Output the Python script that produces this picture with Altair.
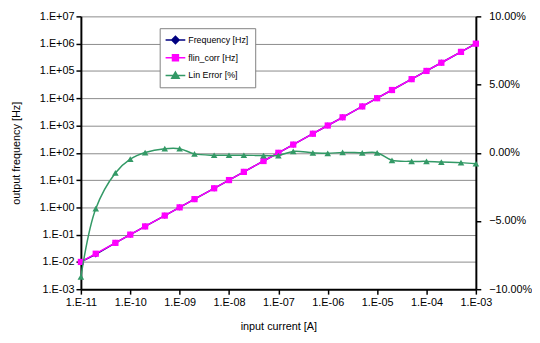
import altair as alt
import pandas as pd

# ---- data ----
current = [1e-11, 2e-11, 5e-11, 1e-10, 2e-10, 5e-10, 1e-9, 2e-9, 5e-9,
           1e-8, 2e-8, 5e-8, 1e-7, 2e-7, 5e-7, 1e-6, 2e-6, 5e-6,
           1e-5, 2e-5, 5e-5, 1e-4, 2e-4, 5e-4, 1e-3]
frequency = [0.01, 0.019, 0.05, 0.1, 0.2, 0.5, 1, 2, 5,
             10, 20, 50, 100, 200, 500, 1000, 2000, 5000,
             1e4, 2e4, 5e4, 1e5, 2e5, 5e5, 1e6]
flin_corr = [0.01, 0.02, 0.05, 0.1, 0.2, 0.5, 1, 2, 5,
             10, 20, 50, 100, 200, 500, 1000, 2000, 5000,
             1e4, 2e4, 5e4, 1e5, 2e5, 5e5, 1e6]
lin_error = [-0.091, -0.041, -0.0148, -0.0047, 0.0002, 0.003, 0.003, -0.0008, -0.0018,
             -0.0018, -0.0018, -0.002, -0.002, 0.001, 0.0, -0.0004, 0.0003, 0.0,
             0.0, -0.0055, -0.0063, -0.0063, -0.0068, -0.0072, -0.008]

series_names = ["Frequency [Hz]", "flin_corr [Hz]", "Lin Error [%]"]
series_colors = ["#000080", "#FF00FF", "#339966"]
legend_paths = [
    "M-2,0H2M0,-0.75L0.75,0L0,0.75L-0.75,0Z",
    "M-2,0H2M-0.6,-0.6H0.6V0.6H-0.6Z",
    "M-2,0H2M0,-0.7L0.75,0.55H-0.75Z",
]

x_ticks = [1e-11, 1e-10, 1e-9, 1e-8, 1e-7, 1e-6, 1e-5, 1e-4, 1e-3]
y_ticks = [1e-3, 1e-2, 1e-1, 1e0, 1e1, 1e2, 1e3, 1e4, 1e5, 1e6, 1e7]
err_ticks = [-0.10, -0.05, 0.0, 0.05, 0.10]

df = pd.DataFrame({"current": current, "frequency": frequency,
                   "flin_corr": flin_corr, "lin_error": lin_error})
df_leg = pd.DataFrame({"series": series_names})

FONT = "Liberation Sans"
e = "round(log(datum.value)/LN10)"
exp_label = f"'1.E' + ({e} >= 0 ? '+' : '-') + (abs({e}) < 10 ? '0' : '') + abs({e})"

axis_common = dict(labelFont=FONT, labelFontSize=11, labelColor="black",
                   titleFont=FONT, titleFontSize=11, titleFontWeight="normal",
                   titleColor="black", domainColor="black", domainWidth=2,
                   tickColor="black", tickWidth=1.5, tickSize=5, labelPadding=2)

x_enc = alt.X("current:Q",
              scale=alt.Scale(type="log", domain=[1e-11, 1e-3], nice=False),
              axis=alt.Axis(values=x_ticks, labelExpr=exp_label, grid=False,
                            title="input current [A]", titlePadding=13,
                            labelFlush=False, **{**axis_common, "labelPadding": 3}))

y_scale = alt.Scale(type="log", domain=[1e-3, 1e7], nice=False)
y_axis = alt.Axis(values=y_ticks, labelExpr=exp_label, grid=True,
                  gridColor="#8a8a8a", gridWidth=1,
                  title="output frequency [Hz]", titlePadding=18,
                  labelFlush=False, **axis_common)

base = alt.Chart(df)

freq_line = base.mark_line(color=series_colors[0], strokeWidth=1.5).encode(
    x=x_enc, y=alt.Y("frequency:Q", scale=y_scale, axis=y_axis))
freq_pts = base.mark_point(shape="diamond", filled=True, opacity=1,
                           color=series_colors[0], size=40).encode(
    x=x_enc, y=alt.Y("frequency:Q", scale=y_scale, axis=y_axis))
flin_line = base.mark_line(color=series_colors[1], strokeWidth=1.5).encode(
    x=x_enc, y=alt.Y("flin_corr:Q", scale=y_scale, axis=y_axis))
flin_pts = base.mark_point(shape="square", filled=True, opacity=1,
                           color=series_colors[1], size=40).encode(
    x=x_enc, y=alt.Y("flin_corr:Q", scale=y_scale, axis=y_axis))

left = alt.layer(freq_line, freq_pts, flin_line, flin_pts)

err_scale = alt.Scale(domain=[-0.10, 0.10], nice=False)
err_axis = alt.Axis(orient="right", values=err_ticks, format=".2%", grid=False,
                    title=None, **{**axis_common, "labelPadding": 8})

err_line = base.mark_line(color=series_colors[2], strokeWidth=1.5,
                          interpolate="catmull-rom").encode(
    x=x_enc, y=alt.Y("lin_error:Q", scale=err_scale, axis=err_axis))
err_pts = base.mark_point(shape="triangle-up", filled=True, opacity=1,
                          color=series_colors[2], size=45).encode(
    x=x_enc, y=alt.Y("lin_error:Q", scale=err_scale, axis=err_axis))

right = alt.layer(err_line, err_pts)

leg = alt.Legend(orient="none", legendX=80, legendY=12, title=None,
                 fillColor="white", strokeColor="#808080", padding=6,
                 labelFont=FONT, labelFontSize=9, labelColor="black",
                 symbolSize=100, symbolStrokeWidth=1.5, rowPadding=5,
                 labelOffset=7, symbolOffset=4)

legend_layer = alt.Chart(df_leg).transform_filter("false").mark_point(
    filled=True, strokeWidth=1.5, opacity=1).encode(
    fill=alt.Fill("series:N", scale=alt.Scale(domain=series_names, range=series_colors), legend=leg),
    stroke=alt.Stroke("series:N", scale=alt.Scale(domain=series_names, range=series_colors), legend=leg),
    shape=alt.Shape("series:N", scale=alt.Scale(domain=series_names, range=legend_paths), legend=leg),
)

chart = alt.layer(left, right, legend_layer).resolve_scale(
    y="independent"
).properties(
    width=401, height=277,
    autosize=alt.AutoSizeParams(type="none"),
    padding={"left": 74, "top": 6, "right": 57, "bottom": 45},
    background="white",
).configure_view(stroke=None)

chart.save("out.html", embed_options={"renderer": "svg", "actions": False})
